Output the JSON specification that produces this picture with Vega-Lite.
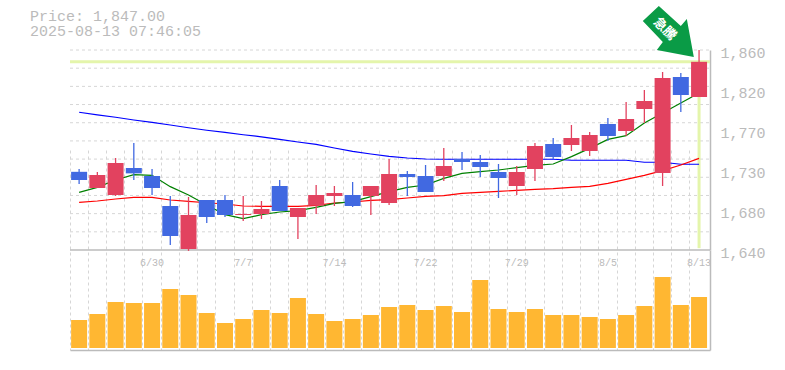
{
"$schema":"https://vega.github.io/schema/vega-lite/v6.json",
"width":640,"height":300,
"autosize":{"type":"none"},
"padding":{"left":70,"top":50,"right":75,"bottom":20},
"background":"white",
"title":{"text":["Price: 1,847.00","2025-08-13 07:46:05"],"anchor":"start","frame":"group","dx":-40,"offset":-33,"font":"Liberation Mono","fontSize":15,"fontWeight":"normal","color":"#bbbbbb","lineHeight":15.5},
"config":{"view":{"stroke":null}},
"datasets":{
"ohlc":[
{"date":"6/24","open":1726,"high":1729.1,"low":1712.6,"close":1717,"dir":"down","ma5":1703.4,"ma25":1692.4,"ma75":1791.5,"volume":28000},
{"date":"6/25","open":1708.2,"high":1725.8,"low":1708.2,"close":1722.5,"dir":"up","ma5":1708.9,"ma25":1693.9,"ma75":1788.7,"volume":34000},
{"date":"6/26","open":1700.5,"high":1741.2,"low":1699.4,"close":1735.7,"dir":"up","ma5":1717,"ma25":1696.1,"ma75":1786,"volume":46000},
{"date":"6/27","open":1730.2,"high":1757.7,"low":1717,"close":1724.3,"dir":"down","ma5":1722.9,"ma25":1697.9,"ma75":1783,"volume":45000},
{"date":"6/30","open":1721.4,"high":1729.1,"low":1700.5,"close":1708.2,"dir":"down","ma5":1722.1,"ma25":1697.9,"ma75":1780.3,"volume":45000},
{"date":"7/1","open":1688.4,"high":1699.4,"low":1645.5,"close":1655.4,"dir":"down","ma5":1709.7,"ma25":1695,"ma75":1777.5,"volume":59000},
{"date":"7/2","open":1641.1,"high":1698.3,"low":1639,"close":1678.5,"dir":"up","ma5":1700.5,"ma25":1693.5,"ma75":1774.5,"volume":53000},
{"date":"7/3","open":1695,"high":1695,"low":1669.7,"close":1676.3,"dir":"down","ma5":1689.5,"ma25":1692,"ma75":1771.7,"volume":35000},
{"date":"7/4","open":1695,"high":1700.5,"low":1676.3,"close":1678.5,"dir":"down","ma5":1678.9,"ma25":1690.6,"ma75":1769.3,"volume":25000},
{"date":"7/7","open":1678.5,"high":1699.4,"low":1671.9,"close":1679.6,"dir":"up","ma5":1674.5,"ma25":1688.4,"ma75":1766.8,"volume":29000},
{"date":"7/8","open":1679.6,"high":1693.9,"low":1674.1,"close":1685.1,"dir":"up","ma5":1678.9,"ma25":1688,"ma75":1764.5,"volume":38000},
{"date":"7/9","open":1710.4,"high":1717,"low":1682.9,"close":1682.9,"dir":"down","ma5":1681.8,"ma25":1688,"ma75":1761.6,"volume":35000},
{"date":"7/10","open":1676.3,"high":1686.2,"low":1652.1,"close":1686.2,"dir":"up","ma5":1683.3,"ma25":1688,"ma75":1758.8,"volume":50000},
{"date":"7/11","open":1688.8,"high":1711.5,"low":1679.6,"close":1700.5,"dir":"up","ma5":1686.9,"ma25":1689.1,"ma75":1756.2,"volume":34000},
{"date":"7/14","open":1699.4,"high":1710.4,"low":1688.4,"close":1702.7,"dir":"up","ma5":1691.3,"ma25":1691.7,"ma75":1752.2,"volume":27000},
{"date":"7/15","open":1700.5,"high":1714.8,"low":1687.3,"close":1688.4,"dir":"down","ma5":1693.2,"ma25":1692.8,"ma75":1748.4,"volume":29000},
{"date":"7/16","open":1699.4,"high":1710.4,"low":1678.5,"close":1710.4,"dir":"up","ma5":1698.7,"ma25":1694.6,"ma75":1745.6,"volume":33000},
{"date":"7/17","open":1691.7,"high":1740.1,"low":1689.5,"close":1723.6,"dir":"up","ma5":1704.2,"ma25":1695.4,"ma75":1742.9,"volume":41000},
{"date":"7/18","open":1723.6,"high":1726.9,"low":1699.4,"close":1720.3,"dir":"down","ma5":1708.9,"ma25":1697.2,"ma75":1741.2,"volume":43000},
{"date":"7/22","open":1721.4,"high":1733.5,"low":1703.8,"close":1703.8,"dir":"down","ma5":1711.5,"ma25":1699,"ma75":1740.1,"volume":38000},
{"date":"7/23","open":1721.4,"high":1752.2,"low":1715.9,"close":1732.4,"dir":"up","ma5":1718.8,"ma25":1699.8,"ma75":1739.8,"volume":42000},
{"date":"7/24","open":1740.1,"high":1747.8,"low":1728,"close":1736.8,"dir":"down","ma5":1724.3,"ma25":1702.3,"ma75":1739.8,"volume":36000},
{"date":"7/25","open":1736.8,"high":1744.5,"low":1720.3,"close":1731.3,"dir":"down","ma5":1726.2,"ma25":1703.4,"ma75":1739.8,"volume":68000},
{"date":"7/28","open":1725.8,"high":1734.6,"low":1697.2,"close":1719.2,"dir":"down","ma5":1728,"ma25":1704.5,"ma75":1739.8,"volume":39000},
{"date":"7/29","open":1710.4,"high":1732.4,"low":1700.5,"close":1725.8,"dir":"up","ma5":1730.6,"ma25":1705.6,"ma75":1739.8,"volume":36000},
{"date":"7/30","open":1729.1,"high":1757.7,"low":1715.9,"close":1754.4,"dir":"up","ma5":1733.1,"ma25":1706.7,"ma75":1739.8,"volume":39000},
{"date":"7/31","open":1756.6,"high":1763.2,"low":1740.1,"close":1742.3,"dir":"down","ma5":1734.6,"ma25":1707.5,"ma75":1739.8,"volume":33000},
{"date":"8/1","open":1755.5,"high":1777.5,"low":1748.9,"close":1763.2,"dir":"up","ma5":1742.7,"ma25":1708.9,"ma75":1738.7,"volume":33000},
{"date":"8/4","open":1748.9,"high":1769.8,"low":1743.4,"close":1766.5,"dir":"up","ma5":1751.8,"ma25":1710,"ma75":1738.7,"volume":31000},
{"date":"8/5","open":1778.6,"high":1785.2,"low":1759.9,"close":1765.4,"dir":"down","ma5":1761.7,"ma25":1713.3,"ma75":1738.7,"volume":29000},
{"date":"8/6","open":1770.9,"high":1802.8,"low":1765.4,"close":1784.1,"dir":"up","ma5":1765.8,"ma25":1717.7,"ma75":1738.7,"volume":33000},
{"date":"8/7","open":1795.1,"high":1816,"low":1779.7,"close":1803.9,"dir":"up","ma5":1779.7,"ma25":1722.1,"ma75":1736.5,"volume":42000},
{"date":"8/8","open":1724.7,"high":1835.8,"low":1710.4,"close":1829.2,"dir":"up","ma5":1790.7,"ma25":1727.3,"ma75":1736.5,"volume":71000},
{"date":"8/12","open":1830.3,"high":1834.7,"low":1791.8,"close":1810.5,"dir":"down","ma5":1801.7,"ma25":1733.5,"ma75":1734.3,"volume":43000},
{"date":"8/13","open":1808.3,"high":1860,"low":1808.3,"close":1847,"dir":"up","ma5":1812.7,"ma25":1740.8,"ma75":1734.3,"volume":51000}
],
"grid":[{"g":1660},{"g":1680},{"g":1700},{"g":1720},{"g":1740},{"g":1760},{"g":1780},{"g":1800},{"g":1820},{"g":1840},{"g":1860}],
"last":[{"date":"8/13","price":1847,"floor":1642}],
"note":[{"date":"8/12","price":1882,"label":"急騰"}]
},
"data":{"name":"ohlc"},
"encoding":{"x":{"field":"date","type":"nominal","title":null,
 "scale":{"type":"band","domain":["6/24","6/25","6/26","6/27","6/30","7/1","7/2","7/3","7/4","7/7","7/8","7/9","7/10","7/11","7/14","7/15","7/16","7/17","7/18","7/22","7/23","7/24","7/25","7/28","7/29","7/30","7/31","8/1","8/4","8/5","8/6","8/7","8/8","8/12","8/13"],"range":[0,640],"paddingInner":0,"paddingOuter":0.05,"align":0},
 "axis":{"bandPosition":0,"grid":true,"gridColor":"#d6d6d6","gridDash":[3,3],"gridWidth":1,"domain":true,"domainColor":"#bbbbbb","domainWidth":1.5,"ticks":false,"labelAngle":0,"labelOffset":0,"labelPadding":-93,"labelOverlap":false,"labelBound":false,"labelFlush":false,"labelFont":"Liberation Mono","labelFontSize":10,"labelColor":"#bbbbbb","labelExpr":"indexof(['6/30','7/7','7/14','7/22','7/29','8/5','8/13'],datum.value)>=0?datum.value:''"}}},
"layer":[
{"layer":[
 {"data":{"name":"grid"},"mark":{"type":"rule","color":"#d6d6d6","strokeDash":[3,3],"strokeWidth":1},"encoding":{"x":{"value":0},"x2":{"value":640},"y":{"field":"g","type":"quantitative"}}},
 {"data":{"values":[{"base":1640}]},"mark":{"type":"rule","color":"#bbbbbb","strokeWidth":1.5},"encoding":{"x":{"value":0},"x2":{"value":640},"y":{"field":"base","type":"quantitative"}}},
 {"data":{"name":"last"},"mark":{"type":"rule","color":"#e4f5ab","strokeWidth":3},"encoding":{"x":{"value":0},"x2":{"value":640},"y":{"field":"price","type":"quantitative"}}},
 {"data":{"name":"last"},"mark":{"type":"rule","color":"#e4f5ab","strokeWidth":3},"encoding":{"y":{"field":"price","type":"quantitative"},"y2":{"field":"floor"}}},
 {"mark":{"type":"line","color":"#0000ff","strokeWidth":1.2,"interpolate":"linear"},"encoding":{"y":{"field":"ma75","type":"quantitative"}}},
 {"mark":{"type":"line","color":"#ff0000","strokeWidth":1.2},"encoding":{"y":{"field":"ma25","type":"quantitative"}}},
 {"mark":{"type":"line","color":"#008000","strokeWidth":1.2},"encoding":{"y":{"field":"ma5","type":"quantitative"}}},
 {"mark":{"type":"rule","strokeWidth":1.3},"encoding":{"y":{"field":"low","type":"quantitative"},"y2":{"field":"high"},"color":{"field":"dir","type":"nominal","legend":null,"scale":{"domain":["up","down"],"range":["#e2425f","#4169e1"]}}}},
 {"mark":{"type":"bar","size":16},"encoding":{"y":{"field":"open","type":"quantitative",
   "scale":{"domain":[1640,1860],"range":[200,0],"nice":false,"zero":false},
   "axis":{"orient":"right","title":null,"values":[1640,1684,1728,1772,1816,1860],"grid":false,"ticks":false,"domain":true,"domainColor":"#bbbbbb","domainWidth":1.5,"labelPadding":10,"labelOffset":2,"labelBound":false,"labelOverlap":false,"labelFont":"Liberation Mono","labelFontSize":15,"labelColor":"#bbbbbb","labelExpr":"format(round(datum.value/10)*10,',')"}},
   "y2":{"field":"close"},"color":{"field":"dir","type":"nominal","legend":null,"scale":{"domain":["up","down"],"range":["#e2425f","#4169e1"]}}}},
 {"data":{"name":"note"},"mark":{"type":"point","filled":true,"color":"#0a9b46","opacity":1,"size":3600,"shape":"M-0.733,-0.8L-1.267,-0.3L-0.6,0.4L-0.8,0.667L0.433,0.9L0.2,-0.367L0,-0.133Z"},"encoding":{"y":{"field":"price","type":"quantitative"}}},
 {"data":{"name":"note"},"mark":{"type":"text","angle":45,"color":"white","font":"Noto Sans CJK JP","fontWeight":"bold","fontSize":13,"dx":-12,"dy":10.6,"align":"center","baseline":"middle"},"encoding":{"y":{"field":"price","type":"quantitative"},"text":{"field":"label"}}}
]},
{"mark":{"type":"bar","size":16,"color":"#ffb732"},"encoding":{"y":{"field":"volume","type":"quantitative","title":null,
  "scale":{"domain":[-2000,98000],"range":[300,200],"nice":false,"zero":false},
  "axis":{"orient":"right","title":null,"grid":false,"ticks":false,"labels":false,"domain":true,"domainColor":"#bbbbbb","domainWidth":1.5}}}}
],
"resolve":{"scale":{"y":"independent"},"axis":{"y":"independent"}}
}
